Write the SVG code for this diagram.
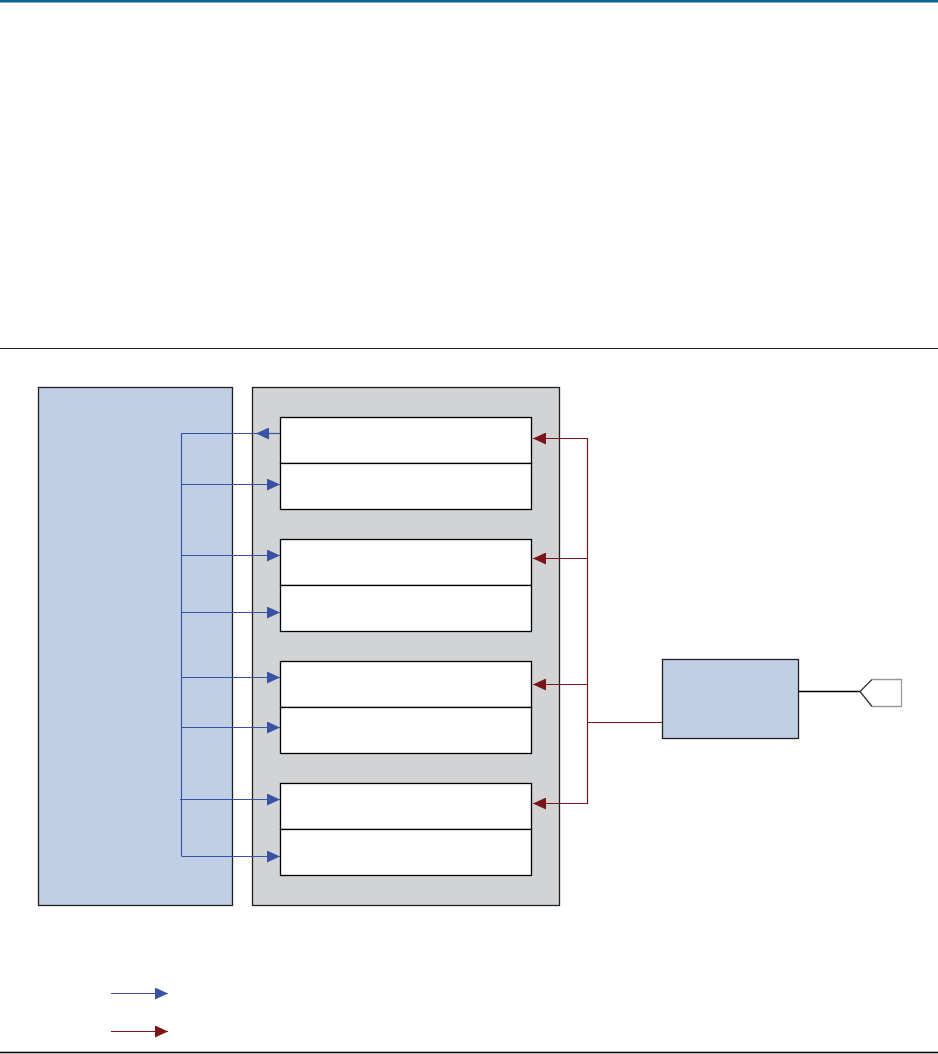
<svg xmlns="http://www.w3.org/2000/svg" width="938" height="1054" viewBox="0 0 938 1054">
<style>
.rule{stroke:#231f20;stroke-width:1.2;fill:none}
.blk{stroke:#231f20;stroke-width:1.3}
.blue{stroke:#3953a4;stroke-width:1.2;fill:none}
.red{stroke:#7a1518;stroke-width:1.2;fill:none}
.cell{fill:#ffffff;stroke:#000;stroke-width:1.3}
</style>
<defs>
<marker id="ab" markerWidth="14" markerHeight="12" refX="13" refY="6" orient="auto" markerUnits="userSpaceOnUse"><path d="M0,0 L13,6 L0,12 Z" fill="#3953a4"/></marker>
<marker id="ar" markerWidth="14" markerHeight="12" refX="13" refY="6" orient="auto" markerUnits="userSpaceOnUse"><path d="M0,0 L13,6 L0,12 Z" fill="#7a1518"/></marker>
</defs>
<rect x="0" y="0" width="938" height="2.5" fill="#0a6496"/>
<line class="rule" x1="0" y1="348.5" x2="938" y2="348.5"/>
<line x1="0" y1="1052.5" x2="938" y2="1052.5" stroke="#000" stroke-width="1.5"/>
<g id="left-block"><rect class="blk" x="38.5" y="387.5" width="194" height="518" fill="#bfd0e6"/></g>
<g id="gray-block"><rect class="blk" x="252.5" y="387.5" width="307" height="518" fill="#d1d3d4"/></g>
<g id="cell1"><rect class="cell" x="280.5" y="417.5" width="251" height="46"/><rect class="cell" x="280.5" y="463.5" width="251" height="46"/></g>
<g id="cell2"><rect class="cell" x="280.5" y="539.5" width="251" height="46"/><rect class="cell" x="280.5" y="585.5" width="251" height="46"/></g>
<g id="cell3"><rect class="cell" x="280.5" y="661.5" width="251" height="46"/><rect class="cell" x="280.5" y="707.5" width="251" height="46"/></g>
<g id="cell4"><rect class="cell" x="280.5" y="783.5" width="251" height="46"/><rect class="cell" x="280.5" y="829.5" width="251" height="46"/></g>
<g id="right-block"><rect class="blk" x="662.5" y="659.5" width="136" height="79" fill="#bfd0e6"/></g>
<g id="port">
<polyline points="872,679.5 901.5,679.5 901.5,706.5 872,706.5" fill="#fff" stroke="#9a9a9a" stroke-width="1.3"/>
<polyline points="872,679.5 860,691.5 872,706.5" fill="none" stroke="#333" stroke-width="1.3"/>
</g>
<g id="connectors">
<line class="blue" x1="181.5" y1="433" x2="181.5" y2="856"/>
<line class="blue" x1="280" y1="433.5" x2="256" y2="433.5" marker-end="url(#ab)"/>
<line class="blue" x1="181.5" y1="433.5" x2="256" y2="433.5"/>
<line class="blue" x1="181.5" y1="484.5" x2="280" y2="484.5" marker-end="url(#ab)"/>
<line class="blue" x1="181.5" y1="555.5" x2="280" y2="555.5" marker-end="url(#ab)"/>
<line class="blue" x1="181.5" y1="612.5" x2="280" y2="612.5" marker-end="url(#ab)"/>
<line class="blue" x1="181.5" y1="677.5" x2="280" y2="677.5" marker-end="url(#ab)"/>
<line class="blue" x1="181.5" y1="727.5" x2="280" y2="727.5" marker-end="url(#ab)"/>
<line class="blue" x1="180" y1="799.5" x2="280" y2="799.5" marker-end="url(#ab)"/>
<line class="blue" x1="181.5" y1="856.5" x2="280" y2="856.5" marker-end="url(#ab)"/>
<line class="red" x1="587.5" y1="438" x2="587.5" y2="804"/>
<line class="red" x1="587.5" y1="438.5" x2="533" y2="438.5" marker-end="url(#ar)"/>
<line class="red" x1="587.5" y1="558.5" x2="533" y2="558.5" marker-end="url(#ar)"/>
<line class="red" x1="587.5" y1="684.5" x2="533" y2="684.5" marker-end="url(#ar)"/>
<line class="red" x1="587.5" y1="803.5" x2="533" y2="803.5" marker-end="url(#ar)"/>
<line class="red" x1="587.5" y1="722.5" x2="662" y2="722.5"/>
<line stroke="#000" stroke-width="1.3" x1="798.5" y1="691.5" x2="860" y2="691.5"/>
</g>
<g id="legend">
<line class="blue" x1="111" y1="993.5" x2="168" y2="993.5" marker-end="url(#ab)"/>
<line class="red" x1="111" y1="1031.5" x2="168" y2="1031.5" marker-end="url(#ar)"/>
</g>
</svg>
